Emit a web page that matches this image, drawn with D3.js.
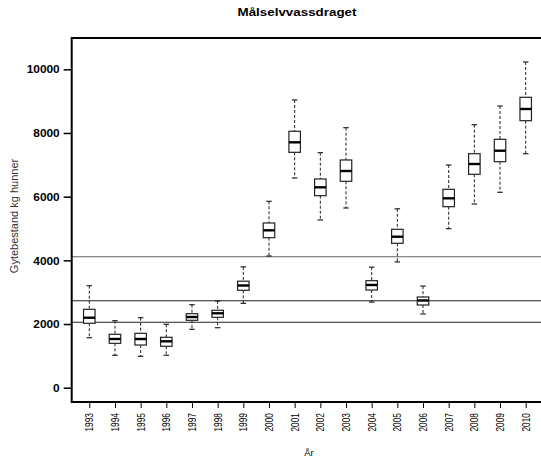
<!DOCTYPE html>
<html><head><meta charset="utf-8">
<script src="https://cdn.jsdelivr.net/npm/d3@7"></script>
<style>body{margin:0;background:#fff}svg{display:block}text{font-family:"Liberation Sans",Arial,sans-serif}</style>
</head><body><div id="c"></div>
<script>
const years = ["1993","1994","1995","1996","1997","1998","1999","2000","2001","2002","2003","2004","2005","2006","2007","2008","2009","2010"];
const whiskerLow = [1570,1018,986,1018,1834,1884,2650,4136,6586,5267,5644,2690,3950,2315,4994,5769,6137,7349];
const q1 =         [2023,1394,1341,1300,2117,2211,3059,4711,7393,6030,6482,3068,4535,2597,5685,6702,7098,8386];
const median =     [2198,1530,1530,1457,2220,2337,3210,4943,7707,6294,6806,3226,4742,2739,5948,7026,7443,8753];
const q3 =         [2462,1677,1708,1583,2324,2431,3345,5173,8053,6555,7152,3361,4975,2849,6231,7349,7801,9121];
const whiskerHigh =[3204,2104,2198,1991,2607,2723,3795,5854,9036,7381,8166,3786,5618,3191,6994,8260,8847,10229];
const refLines = [4114, 2732, 2054];
const yTicks = [0,2000,4000,6000,8000,10000];

const W=541,H=461;
const svg=d3.select("#c").append("svg").attr("width",W).attr("height",H);
const x=d3.scaleLinear().domain([0,years.length-1]).range([89.3,525.7]);
const y=d3.scaleLinear().domain([0,10000]).range([387.7,69.3]);
const frame={l:71.7,t:38,b:402};

// reference lines
svg.selectAll("line.ref").data(refLines).enter().append("line")
  .attr("x1",frame.l).attr("x2",W+5)
  .attr("y1",d=>y(d)).attr("y2",d=>y(d))
  .attr("stroke",(d,i)=>i===0?"#666":"#222").attr("stroke-width",1.1);

const bw=11.5, cw=5.5;
const data=years.map((yr,i)=>({i,lo:whiskerLow[i],q1:q1[i],md:median[i],q3:q3[i],hi:whiskerHigh[i]}));
const g=svg.selectAll("g.box").data(data).enter().append("g");
g.append("line").attr("x1",d=>x(d.i)).attr("x2",d=>x(d.i)).attr("y1",d=>y(d.hi)).attr("y2",d=>y(d.q3))
  .attr("stroke","#222").attr("stroke-dasharray","3,2").attr("stroke-width",1);
g.append("line").attr("x1",d=>x(d.i)).attr("x2",d=>x(d.i)).attr("y1",d=>y(d.q1)).attr("y2",d=>y(d.lo))
  .attr("stroke","#222").attr("stroke-dasharray","3,2").attr("stroke-width",1);
g.append("line").attr("x1",d=>x(d.i)-cw/2).attr("x2",d=>x(d.i)+cw/2).attr("y1",d=>y(d.hi)).attr("y2",d=>y(d.hi))
  .attr("stroke","#222").attr("stroke-width",1.2);
g.append("line").attr("x1",d=>x(d.i)-cw/2).attr("x2",d=>x(d.i)+cw/2).attr("y1",d=>y(d.lo)).attr("y2",d=>y(d.lo))
  .attr("stroke","#222").attr("stroke-width",1.2);
g.append("rect").attr("x",d=>x(d.i)-bw/2).attr("width",bw).attr("y",d=>y(d.q3)).attr("height",d=>y(d.q1)-y(d.q3))
  .attr("fill","#fff").attr("stroke","#222").attr("stroke-width",1.2);
g.append("line").attr("x1",d=>x(d.i)-bw/2).attr("x2",d=>x(d.i)+bw/2).attr("y1",d=>y(d.md)).attr("y2",d=>y(d.md))
  .attr("stroke","#000").attr("stroke-width",2.4);

// frame
svg.append("path").attr("d",`M${W+5},${frame.t}H${frame.l}V${frame.b}H${W+5}`)
  .attr("fill","none").attr("stroke","#000").attr("stroke-width",2);

// y axis
const yAxis=svg.append("g").attr("transform",`translate(${frame.l},0)`)
  .call(d3.axisLeft(y).tickValues(yTicks).tickSize(8).tickPadding(4).tickFormat(d3.format("d")));
yAxis.select(".domain").remove();
yAxis.selectAll(".tick line").attr("stroke","#000").attr("stroke-width",1.5);
yAxis.selectAll(".tick text").attr("font-size","11.5px").attr("font-weight","bold").attr("fill","#000")
  .attr("font-family","Liberation Sans, Arial, sans-serif")
  .attr("textLength",d=>String(d).length*6.6).attr("lengthAdjust","spacingAndGlyphs");

// x axis
const xAxis=svg.append("g").attr("transform",`translate(0,${frame.b})`)
  .call(d3.axisBottom(x).tickValues(d3.range(years.length)).tickSize(6).tickFormat(i=>years[i]));
xAxis.select(".domain").remove();
xAxis.selectAll(".tick line").attr("stroke","#000").attr("stroke-width",1);
xAxis.selectAll(".tick text").attr("font-size","10px").attr("fill","#000")
  .attr("font-family","Liberation Sans, Arial, sans-serif")
  .attr("transform","translate(0,11) rotate(-90)").attr("text-anchor","end").attr("x",0).attr("y",0).attr("dy","0.35em")
  .attr("textLength",18.5).attr("lengthAdjust","spacingAndGlyphs");

// titles
svg.append("text").attr("x",297).attr("y",16).attr("text-anchor","middle").attr("font-size","11px")
  .attr("font-weight","bold").attr("textLength",119).attr("lengthAdjust","spacingAndGlyphs").text("Målselvvassdraget");
svg.append("text").attr("x",309).attr("y",456).attr("text-anchor","middle").attr("font-size","9.5px").text("År");
svg.append("text").attr("transform","translate(18,216) rotate(-90)").attr("text-anchor","middle")
  .attr("font-size","11px").attr("fill","#333").text("Gytebestand kg hunner");
</script></body></html>
